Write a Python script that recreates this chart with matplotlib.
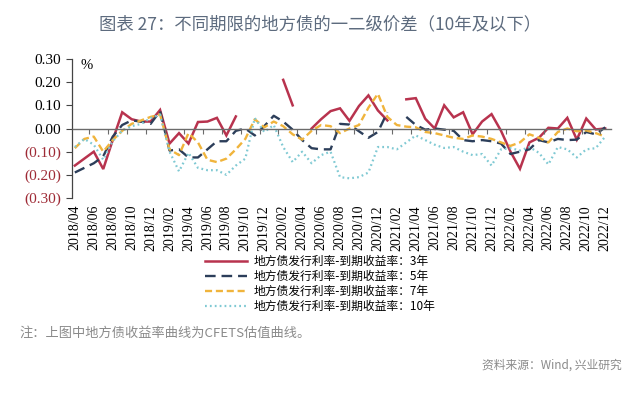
import numpy as np
import matplotlib
matplotlib.use("Agg")
import matplotlib.pyplot as plt
from matplotlib.lines import Line2D

plt.rcParams['font.family'] = ['Noto Sans CJK SC', 'DejaVu Sans']

nan = np.nan

# monthly, 2018/04 .. 2022/12
months = [f"{y}/{m:02d}" for y in range(2018, 2023) for m in range(1, 13)][3:]

spread_3y = [-0.16, -0.13, -0.10, -0.175, -0.05, 0.07, 0.04, 0.03, 0.03, 0.08,
             -0.065, -0.02, -0.065, 0.028, 0.03, 0.046, -0.03, 0.052, nan, nan,
             nan, nan, 0.21, 0.10, nan, 0.0, 0.04, 0.075, 0.087, 0.033,
             0.097, 0.143, 0.078, 0.035, nan, 0.126, 0.131, 0.042, 0.0, 0.10,
             0.048, 0.07, -0.025, 0.03, 0.062, -0.01, -0.10, -0.174, -0.06, -0.04,
             0.003, 0.0, 0.046, -0.048, 0.043, -0.004, 0.0]
spread_5y = [-0.19, -0.17, -0.15, -0.12, -0.035, 0.015, 0.035, 0.03, 0.02, 0.075,
             -0.095, -0.09, -0.125, -0.125, -0.09, -0.055, -0.055, -0.01, 0.0, -0.03,
             0.01, 0.055, 0.03, -0.005, -0.05, -0.085, -0.09, -0.09, 0.02, 0.017,
             -0.012, -0.04, -0.015, 0.07, nan, 0.05, 0.015, -0.005, 0.0, -0.005,
             -0.01, -0.05, -0.055, -0.05, -0.055, -0.065, -0.11, -0.10, -0.09, -0.05,
             -0.06, -0.045, -0.05, -0.048, -0.015, -0.025, 0.005]
spread_7y = [-0.085, -0.045, -0.035, -0.10, -0.05, -0.01, 0.02, 0.035, 0.05, 0.06,
             -0.09, -0.115, -0.02, -0.06, -0.135, -0.145, -0.13, -0.09, -0.045, 0.04,
             0.005, 0.03, 0.01, -0.025, -0.048, -0.01, 0.015, 0.01, -0.02, 0.0,
             0.015, 0.09, 0.15, 0.05, 0.015, 0.008, 0.005, -0.015, -0.02, -0.03,
             -0.04, -0.045, -0.03, -0.035, -0.045, -0.06, -0.075, -0.06, -0.025, -0.04,
             -0.06, -0.015, 0.0, -0.012, -0.008, -0.02, -0.035]
spread_10y = [-0.08, -0.045, -0.07, -0.135, -0.055, -0.01, 0.01, 0.02, 0.045, 0.06,
              -0.10, -0.185, -0.105, -0.17, -0.18, -0.18, -0.20, -0.16, -0.13, 0.045,
              -0.015, 0.015, -0.08, -0.145, -0.10, -0.15, -0.115, -0.10, -0.21, -0.215,
              -0.21, -0.19, -0.08, -0.08, -0.09, -0.06, -0.03, -0.05, -0.07, -0.084,
              -0.08, -0.10, -0.115, -0.11, -0.16, -0.09, -0.085, -0.095, -0.08, -0.105,
              -0.155, -0.08, -0.09, -0.125, -0.09, -0.085, -0.035]

labels = ['地方债发行利率-到期收益率：3年', '地方债发行利率-到期收益率：5年',
          '地方债发行利率-到期收益率：7年', '地方债发行利率-到期收益率：10年']
yticks = [0.30, 0.20, 0.10, 0.00, -0.10, -0.20, -0.30]

c3, c5, c7, c10 = '#b8334e', '#2c3e5a', '#f0b43c', '#7fc9d3'
neg_red = '#9e2a35'

fig = plt.figure(figsize=(6.4, 4.0), dpi=100)
ax = fig.add_axes([0.1125, 0.505, 0.842, 0.3475])

x = np.arange(len(months))
ax.plot(x, spread_3y, color=c3, lw=1.8, solid_joinstyle='miter')
ax.plot(x, spread_5y, color=c5, lw=1.7, dashes=(4.5, 2.5))
ax.plot(x, spread_7y, color=c7, lw=1.7, dashes=(3, 1.6))
ax.plot(x, spread_10y, color=c10, lw=1.6, dashes=(0.8, 1.4))

ax.set_xlim(-0.3, 56.6)
ax.set_ylim(-0.30, 0.30)

# y axis
ax.set_yticks(yticks)
ax.set_yticklabels([f"{v:.2f}" if v >= 0 else f"({abs(v):.2f})" for v in yticks],
                   family='Liberation Serif', fontsize=11)
for t, v in zip(ax.get_yticklabels(), yticks):
    t.set_color(neg_red if v < 0 else 'black')
ax.tick_params(axis='y', direction='out', length=4, width=0.8, color='#444444', pad=4)

for s in ['top', 'right']:
    ax.spines[s].set_visible(False)
ax.spines['left'].set_color('#444444')
ax.spines['left'].set_linewidth(0.9)

# zero line carries the tick marks
ax.spines['bottom'].set_position(('data', 0))
ax.spines['bottom'].set_color('#6b6b6b')
ax.spines['bottom'].set_linewidth(1.0)
ax.set_xticks(np.arange(1.5, 57, 2))
ax.tick_params(axis='x', direction='out', length=3.5, width=0.8, color='#6b6b6b', labelbottom=False)
ax.set_axisbelow(False)

# date labels at the bottom of the axes
sec = ax.secondary_xaxis(0.0)
sec.set_xticks(x[::2])
sec.set_xticklabels(months[::2], rotation=90, family='Liberation Serif', fontsize=10)
sec.tick_params(length=0, pad=5)
sec.spines['bottom'].set_visible(False)

ax.text(0.016, 1.0, '%', transform=ax.transAxes, ha='left', va='top',
        family='Liberation Serif', fontsize=10.5)

handles = [Line2D([], [], color=c3, lw=1.8),
           Line2D([], [], color=c5, lw=1.7, dashes=(4.5, 2.5)),
           Line2D([], [], color=c7, lw=1.7, dashes=(3, 1.6)),
           Line2D([], [], color=c10, lw=1.6, dashes=(0.8, 1.4))]
fig.legend(handles, labels, loc='center', bbox_to_anchor=(0.5, 0.29), frameon=False,
           fontsize=8.5, handlelength=3.6, handletextpad=0.5, labelspacing=0.15,
           borderpad=0)

fig.text(0.5, 0.938, '图表 27：不同期限的地方债的一二级价差（10年及以下）', ha='center', va='center',
         fontsize=12.5, color='#5d6b7e')
fig.text(0.031, 0.167, '注：上图中地方债收益率曲线为CFETS估值曲线。', ha='left', va='center',
         fontsize=9.5, color='#8a8a8a')
fig.text(0.972, 0.087, '资料来源：Wind, 兴业研究', ha='right', va='center',
         fontsize=8.5, color='#8a8a8a')

fig.savefig('out.png', dpi=100)
